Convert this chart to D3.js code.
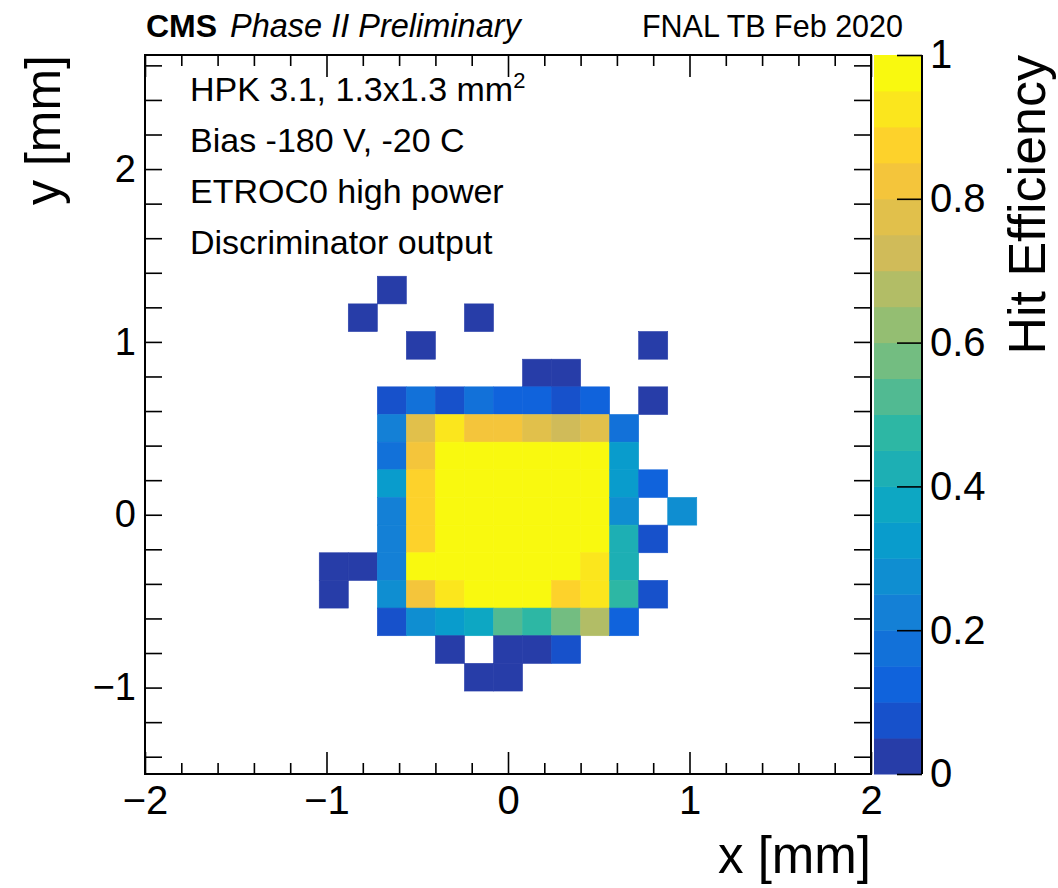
<!DOCTYPE html>
<html>
<head>
<meta charset="utf-8">
<script src="https://cdn.jsdelivr.net/npm/d3@7"></script>
<style>
  body { margin: 0; background: #fff; }
  svg { font-family: "Liberation Sans", Arial, Helvetica, sans-serif; }
  .tick line { stroke: #000; stroke-width: 1.6; }
  .tick text { fill: #000; }
</style>
</head>
<body>
<div id="container"></div>
<script>
// bin lower edges (mm), bins are 0.16 mm wide
var binW = 0.16;
var xLow = [-1.04, -0.88, -0.72, -0.56, -0.40, -0.24, -0.08, 0.08, 0.24, 0.40, 0.56, 0.72, 0.88];
var yLow = [1.22, 1.06, 0.90, 0.74, 0.58, 0.42, 0.26, 0.10, -0.06, -0.22, -0.38, -0.54, -0.70, -0.86, -1.02];

// hit efficiency, one row per yLow entry, one column per xLow entry (null = no entries)
var eff = [
  [null, null, 0,    null, null, null, null, null, null, null, null, null, null],
  [null, 0,    null, null, null, 0,    null, null, null, null, null, null, null],
  [null, null, null, 0,    null, null, null, null, null, null, null, 0,    null],
  [null, null, null, null, null, null, null, 0,    0,    null, null, null, null],
  [null, null, 0.07, 0.17, 0.08, 0.18, 0.12, 0.13, 0.07, 0.12, null, 0,    null],
  [null, null, 0.22, 0.78, 0.92, 0.83, 0.82, 0.77, 0.72, 0.78, 0.17, null, null],
  [null, null, 0.18, 0.83, 0.98, 0.99, 0.98, 0.99, 0.98, 0.97, 0.33, null, null],
  [null, null, 0.32, 0.88, 0.98, 0.99, 0.99, 0.98, 0.99, 0.98, 0.33, 0.12, null],
  [null, null, 0.23, 0.87, 0.99, 0.98, 0.99, 0.99, 0.98, 0.98, 0.28, null, 0.27],
  [null, null, 0.22, 0.87, 0.98, 0.99, 0.98, 0.99, 0.98, 0.97, 0.43, 0.08, null],
  [0,    0,    0.23, 0.98, 0.99, 0.98, 0.99, 0.98, 0.97, 0.93, 0.43, null, null],
  [0,    null, 0.28, 0.83, 0.92, 0.98, 0.99, 0.97, 0.88, 0.92, 0.47, 0.08, null],
  [null, null, 0.08, 0.28, 0.33, 0.37, 0.52, 0.47, 0.57, 0.67, 0.12, null, null],
  [null, null, null, null, 0,    null, 0,    0,    0.08, null, null, null, null],
  [null, null, null, null, null, 0,    0,    null, null, null, null, null, null]
];

var xTicks = [-2, -1, 0, 1, 2];
var yTicks = [-1, 0, 1, 2];
var zTicks = [0, 0.2, 0.4, 0.6, 0.8, 1];
var legendLines = ["HPK 3.1, 1.3x1.3 mm", "Bias -180 V, -20 C", "ETROC0 high power", "Discriminator output"];

// ROOT kBird palette stops
var birdStops = [0, 0.125, 0.25, 0.375, 0.5, 0.625, 0.75, 0.875, 1];
var birdR = [0.2082, 0.0592, 0.0780, 0.0232, 0.1802, 0.5301, 0.8186, 0.9956, 0.9764];
var birdG = [0.1664, 0.3599, 0.5041, 0.6419, 0.7178, 0.7492, 0.7328, 0.7862, 0.9832];
var birdB = [0.5293, 0.8684, 0.8385, 0.7914, 0.6425, 0.4662, 0.3499, 0.1968, 0.0539];
var nLevels = 20;

var width = 1058, height = 888;
var frame = {left: 145, right: 871, top: 55, bottom: 774};
var bar = {left: 874, right: 922};

var bird = d3.scaleLinear()
  .domain(birdStops)
  .range(birdStops.map(function(s, i) {
    return d3.rgb(birdR[i] * 255, birdG[i] * 255, birdB[i] * 255);
  }))
  .interpolate(d3.interpolateRgb);

// same level -> colour rule as THistPainter
function levelColor(v) {
  var k = Math.min(nLevels - 1, Math.floor(v * nLevels + 1e-6));
  var idx = Math.floor((k + 0.99) * 255 / nLevels);
  return bird(idx / 255);
}

var svg = d3.select("#container").append("svg")
  .attr("width", width).attr("height", height);

var xScale = d3.scaleLinear().domain([-2, 2]).range([frame.left, frame.right]);
var yScale = d3.scaleLinear().domain([-1.5, 2.66]).range([frame.bottom, frame.top]);
var zScale = d3.scaleLinear().domain([0, 1]).range([frame.bottom, frame.top]);

// cells
var cells = [];
eff.forEach(function(row, j) {
  row.forEach(function(v, i) {
    if (v !== null) cells.push({x: xLow[i], y: yLow[j], v: v});
  });
});

svg.append("g").selectAll("rect")
  .data(cells)
  .enter().append("rect")
  .attr("x", function(d) { return xScale(d.x); })
  .attr("y", function(d) { return yScale(d.y + binW); })
  .attr("width", function(d) { return xScale(d.x + binW) - xScale(d.x); })
  .attr("height", function(d) { return yScale(d.y) - yScale(d.y + binW); })
  .attr("fill", function(d) { return levelColor(d.v); })
  .attr("stroke", function(d) { return levelColor(d.v); })
  .attr("stroke-width", 0.6);

// frame ticks
function minorTicks(lo, hi) {
  var t = [];
  for (var k = Math.ceil(lo / 0.2 - 1e-6); k * 0.2 <= hi + 1e-6; k++) {
    var v = +(k * 0.2).toFixed(2);
    if (Math.abs(v - Math.round(v)) > 1e-6) t.push(v);
  }
  return t;
}
var xMinor = minorTicks(-2, 2);
var yMinor = minorTicks(-1.5, 2.66);
var fmt = d3.format("");

function addAxis(axis, tx, ty) {
  var g = svg.append("g")
    .attr("transform", "translate(" + tx + "," + ty + ")")
    .call(axis);
  g.select(".domain").remove();
  return g;
}

var xMajLen = 22, xMinLen = 11, yMajLen = 17, yMinLen = 17;

var gx = addAxis(d3.axisBottom(xScale).tickValues(xTicks).tickSizeInner(-xMajLen).tickSizeOuter(0)
  .tickPadding(10).tickFormat(fmt), 0, frame.bottom);
gx.selectAll("text").attr("font-size", 40).attr("dy", "0.75em");
addAxis(d3.axisBottom(xScale).tickValues(xMinor).tickSizeInner(-xMinLen).tickSizeOuter(0).tickFormat(""), 0, frame.bottom);
addAxis(d3.axisTop(xScale).tickValues(xTicks).tickSizeInner(-xMajLen).tickSizeOuter(0).tickFormat(""), 0, frame.top);
addAxis(d3.axisTop(xScale).tickValues(xMinor).tickSizeInner(-xMinLen).tickSizeOuter(0).tickFormat(""), 0, frame.top);

var gy = addAxis(d3.axisLeft(yScale).tickValues(yTicks).tickSizeInner(-yMajLen).tickSizeOuter(0)
  .tickPadding(9).tickFormat(fmt), frame.left, 0);
gy.selectAll("text").attr("font-size", 38);
addAxis(d3.axisLeft(yScale).tickValues(yMinor).tickSizeInner(-yMinLen).tickSizeOuter(0).tickFormat(""), frame.left, 0);
addAxis(d3.axisRight(yScale).tickValues(yTicks).tickSizeInner(-yMajLen).tickSizeOuter(0).tickFormat(""), frame.right, 0);
addAxis(d3.axisRight(yScale).tickValues(yMinor).tickSizeInner(-yMinLen).tickSizeOuter(0).tickFormat(""), frame.right, 0);

svg.append("rect")
  .attr("x", frame.left).attr("y", frame.top)
  .attr("width", frame.right - frame.left).attr("height", frame.bottom - frame.top)
  .attr("fill", "none").attr("stroke", "#000").attr("stroke-width", 2);

// colour bar
var levels = d3.range(nLevels).map(function(k) { return k / nLevels; });
svg.append("g").selectAll("rect")
  .data(levels)
  .enter().append("rect")
  .attr("x", bar.left)
  .attr("width", bar.right - bar.left)
  .attr("y", function(d) { return zScale(d + 1 / nLevels); })
  .attr("height", function(d) { return zScale(d) - zScale(d + 1 / nLevels) + 0.5; })
  .attr("fill", function(d) { return levelColor(d + 0.5 / nLevels); });

var gz = svg.append("g")
  .attr("transform", "translate(" + bar.right + ",0)")
  .call(d3.axisRight(zScale).tickValues(zTicks).tickSizeInner(-25).tickSizeOuter(0)
    .tickPadding(8).tickFormat(d3.format("")));
gz.select(".domain").attr("stroke", "#000").attr("stroke-width", 2)
  .attr("d", "M0," + frame.top + "V" + frame.bottom);
gz.selectAll("text").attr("font-size", 40);

// axis titles
svg.append("text")
  .attr("x", frame.right).attr("y", 873)
  .attr("text-anchor", "end")
  .attr("font-size", 51)
  .text("x [mm]");

svg.append("text")
  .attr("transform", "translate(60," + frame.top + ") rotate(-90)")
  .attr("text-anchor", "end")
  .attr("font-size", 50)
  .text("y [mm]");

svg.append("text")
  .attr("transform", "translate(1045," + frame.top + ") rotate(-90)")
  .attr("text-anchor", "end")
  .attr("font-size", 52)
  .text("Hit Efficiency");

// header
svg.append("text")
  .attr("x", 146).attr("y", 37)
  .attr("font-size", 32).attr("font-weight", "bold")
  .text("CMS");
svg.append("text")
  .attr("x", 230).attr("y", 37)
  .attr("font-size", 32.5).attr("font-style", "italic")
  .text("Phase II Preliminary");
svg.append("text")
  .attr("x", 903).attr("y", 37)
  .attr("text-anchor", "end")
  .attr("font-size", 30.5)
  .text("FNAL TB Feb 2020");

// legend lines
var leg = svg.append("g").selectAll("text")
  .data(legendLines)
  .enter().append("text")
  .attr("x", 190)
  .attr("y", function(d, i) { return 101 + i * 51; })
  .attr("font-size", 34)
  .text(function(d) { return d; });
leg.filter(function(d, i) { return i == 0; })
  .append("tspan")
  .attr("dy", -13)
  .attr("font-size", 22)
  .text("2");
</script>
</body>
</html>
